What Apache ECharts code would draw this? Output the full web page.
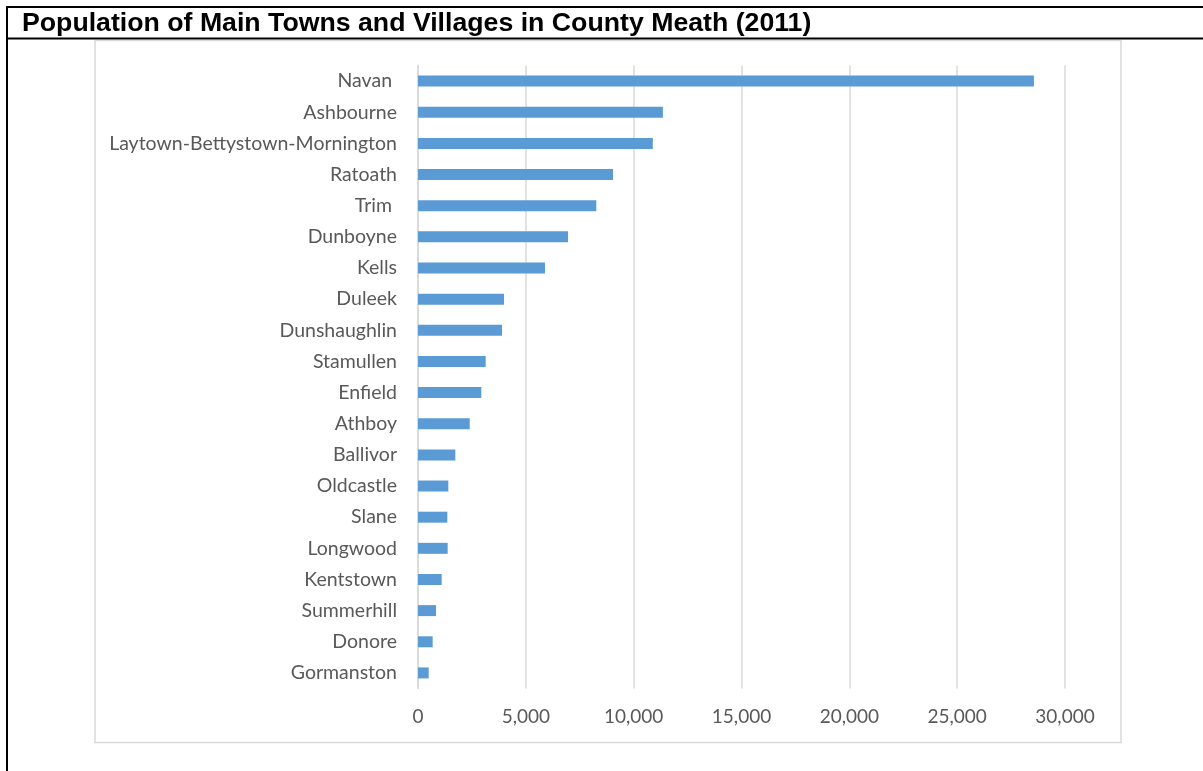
<!DOCTYPE html>
<html>
<head>
<meta charset="utf-8">
<title>Population of Main Towns and Villages in County Meath (2011)</title>
<script src="https://cdn.jsdelivr.net/npm/echarts@6/dist/echarts.min.js"></script>
<style>
  html, body { margin: 0; padding: 0; background: #ffffff; }
  #chart { width: 1203px; height: 771px; }
</style>
</head>
<body>
<div id="chart"></div>
<script>
// Towns, listed from largest to smallest (drawn top to bottom)
var towns = [
  'Navan ', 'Ashbourne', 'Laytown-Bettystown-Mornington', 'Ratoath', 'Trim ',
  'Dunboyne', 'Kells', 'Duleek', 'Dunshaughlin', 'Stamullen',
  'Enfield', 'Athboy', 'Ballivor', 'Oldcastle', 'Slane',
  'Longwood', 'Kentstown', 'Summerhill', 'Donore', 'Gormanston'
];

// Population, 2011
var population = [
  28559, 11355, 10889, 9043, 8268,
  6957, 5890, 3989, 3896, 3139,
  2936, 2398, 1731, 1407, 1360,
  1376, 1098, 835, 680, 495
];

// Value axis ticks
var axisMin = 0;
var axisMax = 30000;
var axisStep = 5000;

var titleText = 'Population of Main Towns and Villages in County Meath (2011)';

var labelFont = 'Lato, "Open Sans", sans-serif';
var chart = echarts.init(document.getElementById('chart'), null, { renderer: 'canvas' });

chart.setOption({
  animation: false,
  backgroundColor: '#ffffff',
  title: {
    text: titleText,
    left: 22,
    top: 10,
    padding: 0,
    textStyle: {
      fontFamily: '"Liberation Sans", Arial, sans-serif',
      fontWeight: 'bold',
      fontSize: 26.7,
      color: '#000000'
    }
  },
  graphic: [
    // frame lines around the title block
    { type: 'line', shape: { x1: 6, y1: 7, x2: 1203, y2: 7 }, style: { stroke: '#000', lineWidth: 2 }, z: 10 },
    { type: 'line', shape: { x1: 6, y1: 38.5, x2: 1203, y2: 38.5 }, style: { stroke: '#000', lineWidth: 2 }, z: 10 },
    { type: 'line', shape: { x1: 7, y1: 6, x2: 7, y2: 771 }, style: { stroke: '#000', lineWidth: 2 }, z: 10 },
    // chart area border
    { type: 'rect', shape: { x: 95, y: 40.5, width: 1026, height: 702 }, style: { fill: 'none', stroke: '#d9d9d9', lineWidth: 1.5 }, z: 0 }
  ],
  grid: {
    left: 418,
    right: 138,
    top: 65.5,
    bottom: 82.5,
    containLabel: false
  },
  xAxis: {
    type: 'value',
    min: axisMin,
    max: axisMax,
    interval: axisStep,
    axisLine: { show: false },
    axisTick: { show: false },
    splitLine: { show: true, lineStyle: { color: '#d9d9d9', width: 1.5 } },
    axisLabel: {
      margin: 19,
      color: '#595959',
      fontFamily: labelFont,
      fontSize: 19,
      formatter: function (v) { return v.toLocaleString('en-US'); }
    }
  },
  yAxis: {
    type: 'category',
    data: towns,
    inverse: true,
    axisLine: { show: true, lineStyle: { color: '#d9d9d9', width: 1.5 } },
    axisTick: { show: false },
    axisLabel: {
      margin: 21,
      color: '#595959',
      fontFamily: labelFont,
      fontSize: 19.5
    }
  },
  series: [{
    type: 'bar',
    data: population,
    barWidth: 11,
    itemStyle: { color: '#5b9bd5' }
  }]
});
</script>
</body>
</html>
